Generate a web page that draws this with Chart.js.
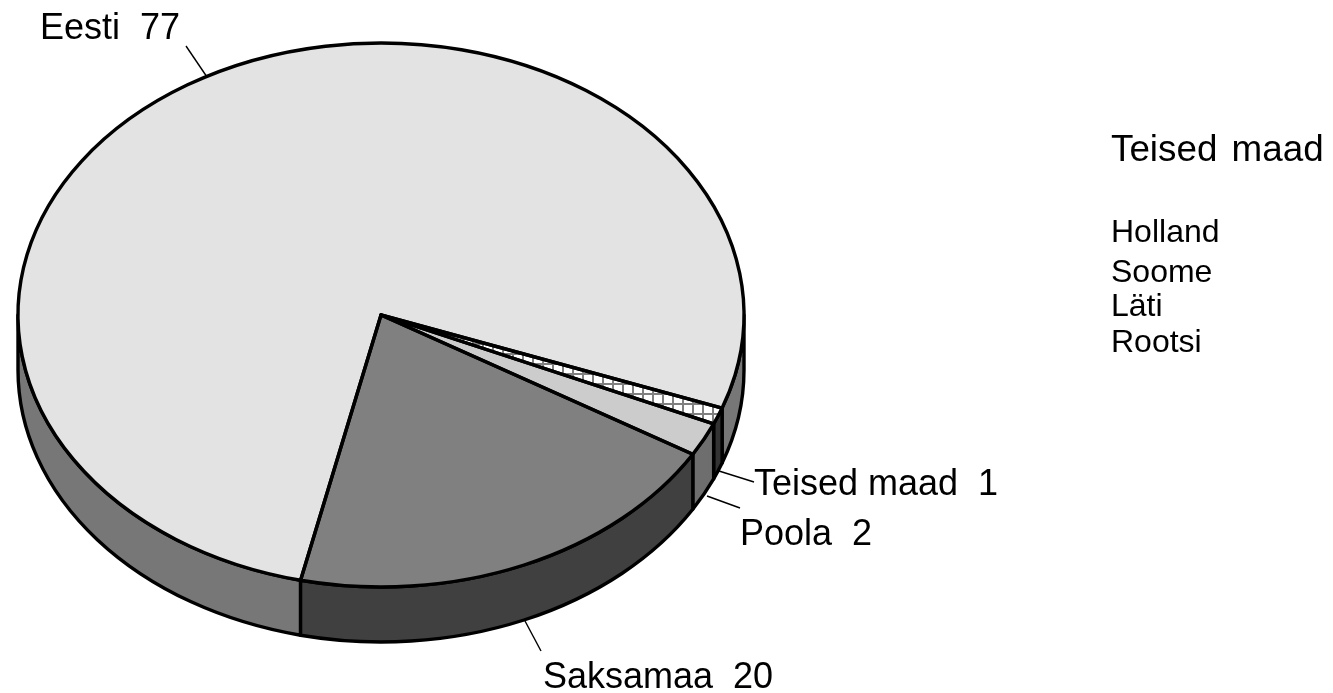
<!DOCTYPE html>
<html><head><meta charset="utf-8">
<style>html,body{margin:0;padding:0;background:#fff;overflow:hidden}canvas{display:block}</style>
<script src="https://cdn.jsdelivr.net/npm/chart.js@4"></script>
</head><body>
<canvas id="c" width="1333" height="693"></canvas>
<script>
const categories = ['Eesti', 'Teised maad', 'Poola', 'Saksamaa'];
const shares = [77, 1, 2, 20];
const sideTitle = 'Teised maad';
const otherCountries = ['Holland', 'Soome', 'Läti', 'Rootsi'];

const topColors = ['#e3e3e3', null, '#cccccc', '#808080'];
const sideColors = ['#777777', '#333333', '#6e6e6e', '#404040'];
const RX = 363, RY = 272, DEPTH = 55, FONT = '"Liberation Sans", Arial, sans-serif';

const labelLayout = [
  {x: 40,  y: 39,  line: [186, 46, 207, 77]},
  {x: 754, y: 495, line: [719, 471, 754, 482]},
  {x: 740, y: 545, line: [707, 496, 740, 508]},
  {x: 543, y: 688, line: [525, 621, 541, 651]}
];
const listBaselines = [242, 282, 316, 352];

function hatch(sx, sy) {
  const p = document.createElement('canvas');
  p.width = 10; p.height = 10;
  const g = p.getContext('2d');
  g.fillStyle = '#fff'; g.fillRect(0, 0, 10, 10);
  g.fillStyle = '#808080'; g.fillRect(0, 0, 10, 2); g.fillRect(0, 0, 2, 10);
  const pat = g.createPattern(p, 'repeat');
  pat.setTransform(new DOMMatrix().scale(1 / sx, 1 / sy));
  return pat;
}
const TWO_PI = Math.PI * 2;

const pie3d = {
  id: 'pie3d',
  beforeDatasetsDraw(chart) {
    const ctx = chart.ctx, arcs = chart.getDatasetMeta(0).data;
    const {x, y, outerRadius: r} = arcs[0];
    ctx.lineWidth = 3.4; ctx.lineJoin = 'round'; ctx.strokeStyle = '#000';
    arcs.forEach((el, i) => {
      let s = el.startAngle, e = el.endAngle;
      while (s >= TWO_PI) { s -= TWO_PI; e -= TWO_PI; }
      while (s < 0) { s += TWO_PI; e += TWO_PI; }
      [[0, Math.PI], [TWO_PI, TWO_PI + Math.PI]].forEach(([lo, hi]) => {
        const a = Math.max(s, lo), b = Math.min(e, hi);
        if (b <= a) return;
        ctx.beginPath();
        ctx.ellipse(x, y, RX, RY, 0, a, b);
        ctx.ellipse(x, y + DEPTH, RX, RY, 0, b, a, true);
        ctx.closePath();
        ctx.fillStyle = sideColors[i];
        ctx.fill();
        ctx.stroke();
      });
    });
    ctx.save();
    ctx.translate(x, y);
    ctx.scale(RX / r, RY / r);
    ctx.translate(-x, -y);
  },
  afterDatasetsDraw(chart) {
    const ctx = chart.ctx, arcs = chart.getDatasetMeta(0).data;
    ctx.restore();
    ctx.lineWidth = 3.4; ctx.lineJoin = 'round'; ctx.strokeStyle = '#000';
    arcs.forEach(el => {
      ctx.beginPath();
      ctx.moveTo(el.x, el.y);
      ctx.ellipse(el.x, el.y, RX, RY, 0, el.startAngle, el.endAngle);
      ctx.closePath();
      ctx.stroke();
    });
  },
  afterDraw(chart) {
    const ctx = chart.ctx;
    ctx.fillStyle = '#000'; ctx.strokeStyle = '#000'; ctx.textBaseline = 'alphabetic'; ctx.textAlign = 'left';
    categories.forEach((name, i) => {
      const l = labelLayout[i];
      ctx.lineWidth = 1.4;
      ctx.beginPath(); ctx.moveTo(l.line[0], l.line[1]); ctx.lineTo(l.line[2], l.line[3]); ctx.stroke();
      ctx.font = '36px ' + FONT;
      ctx.fillText(name + '  ' + shares[i], l.x, l.y);
    });
    ctx.font = '36.8px ' + FONT;
    ctx.wordSpacing = '4px';
    ctx.fillText(sideTitle, 1111, 161);
    ctx.wordSpacing = '0px';
    ctx.font = '32px ' + FONT;
    otherCountries.forEach((n, i) => ctx.fillText(n, 1111, listBaselines[i]));
  }
};

new Chart(document.getElementById('c'), {
  type: 'pie',
  data: {
    labels: categories,
    datasets: [{
      data: shares,
      backgroundColor: topColors.map(c => c || hatch(363 / 315, 272 / 315)),
      borderWidth: 0,
      clip: false
    }]
  },
  options: {
    responsive: false,
    animation: false,
    rotation: 192.8,
    layout: {padding: {left: 0, top: 0, right: 571, bottom: 63}},
    events: [],
    plugins: {legend: {display: false}, tooltip: {enabled: false}, title: {display: false}}
  },
  plugins: [pie3d]
});
</script>
</body></html>
